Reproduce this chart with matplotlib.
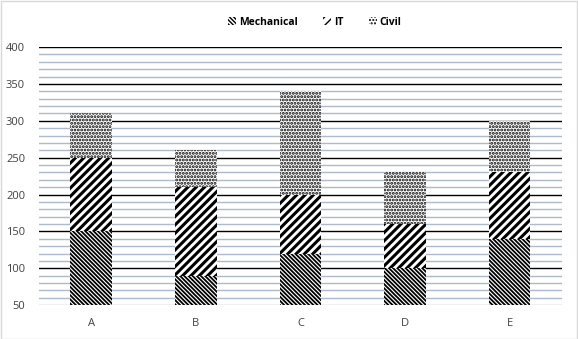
import matplotlib
matplotlib.use("Agg")
import matplotlib.pyplot as plt
import numpy as np
from matplotlib.patches import Rectangle

plt.rcParams["font.family"] = ["Open Sans", "DejaVu Sans"]
plt.rcParams["hatch.color"] = "black"

# branch-wise counts per institute
institutes = ["A", "B", "C", "D", "E"]
mechanical = [150, 90, 120, 100, 140]
it = [100, 120, 80, 60, 90]
civil = [60, 50, 140, 70, 70]

series = [("Mechanical", mechanical, "\\" * 8, 1.3),
          ("IT", it, "/" * 4, 2.2),
          ("Civil", civil, "." * 5, 1.4)]

fig = plt.figure(figsize=(5.78, 3.39), dpi=100)
ax = fig.add_axes([0.0675, 0.100, 0.9045, 0.761])

x = np.arange(len(institutes))
bottom = np.zeros(len(institutes))
handles = []
for name, vals, hatch, hlw in series:
    bars = ax.bar(x, vals, 0.4, bottom=bottom, color="white", edgecolor="black",
                  linewidth=0, hatch=hatch, zorder=3, label=name)
    for p in bars:
        if hasattr(p, "set_hatch_linewidth"):
            p.set_hatch_linewidth(hlw)
    handles.append(bars)
    bottom += np.array(vals)

ax.set_ylim(50, 400)
ax.set_xlim(-0.5, len(institutes) - 0.5)
ax.set_yticks(np.arange(50, 401, 50))
ax.set_yticks(np.arange(60, 400, 10), minor=True)
ax.set_xticks(x)
ax.set_xticklabels(institutes)
ax.grid(True, which="minor", axis="y", color="#adbacb", lw=1.0, zorder=0)
ax.grid(True, which="major", axis="y", color="black", lw=1.0, zorder=1)
ax.yaxis.get_gridlines()[0].set_color("#adbacb")
for s in ax.spines.values():
    s.set_visible(False)
ax.tick_params(axis="both", which="both", length=0, labelsize=8, colors="#404040")
ax.tick_params(axis="y", pad=10)
ax.tick_params(axis="x", pad=9)

leg = fig.legend(handles=handles, loc="center", bbox_to_anchor=(0.545, 0.935),
                 ncol=3, frameon=False, handlelength=0.7,
                 handleheight=0.7, handletextpad=0.3, columnspacing=2.5,
                 prop={"weight": "bold", "size": 7.5})

fig.patches.append(Rectangle((0.001, 0.001), 0.997, 0.996, transform=fig.transFigure,
                             fill=False, edgecolor="#d9d9d9", lw=1))

fig.savefig("out.png", dpi=100)
